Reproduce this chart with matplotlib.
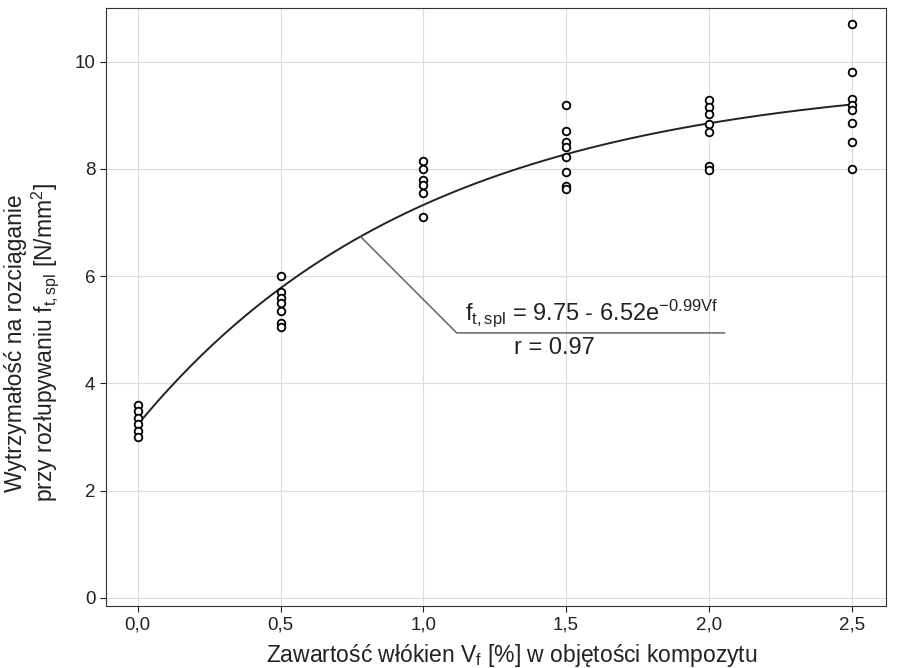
import numpy as np
import matplotlib
matplotlib.use("Agg")
from matplotlib import pyplot as plt

plt.rcParams['font.family'] = ['Liberation Sans', 'DejaVu Sans']
plt.rcParams['mathtext.fontset'] = 'custom'
plt.rcParams['mathtext.rm'] = 'Liberation Sans'
plt.rcParams['mathtext.it'] = 'Liberation Sans'
plt.rcParams['mathtext.default'] = 'regular'

# fibre content Vf [%] and measured strength [N/mm2]
vf_groups = [0.0, 0.5, 1.0, 1.5, 2.0, 2.5]
f_values = [
    [3.6, 3.48, 3.35, 3.25, 3.12, 3.0],
    [6.0, 5.7, 5.6, 5.5, 5.35, 5.12, 5.05],
    [8.15, 8.0, 7.8, 7.7, 7.55, 7.1],
    [9.2, 8.7, 8.5, 8.4, 8.22, 7.95, 7.68, 7.63],
    [9.29, 9.16, 9.03, 8.84, 8.69, 8.06, 7.97],
    [10.7, 9.8, 9.3, 9.2, 9.1, 8.85, 8.5, 8.0],
]

# fitted curve parameters
a = 9.75
b = 6.52
c = 0.99

xticks = [0.0, 0.5, 1.0, 1.5, 2.0, 2.5]
xticklabels = ['0,0', '0,5', '1,0', '1,5', '2,0', '2,5']
yticks = [0, 2, 4, 6, 8, 10]

fig = plt.figure(figsize=(9.04, 6.68), dpi=100)
ax = fig.add_axes([0.117, 0.093, 0.863, 0.895])

for v, vals in zip(vf_groups, f_values):
    ax.plot([v] * len(vals), vals, 'o', mfc='white', mec='black',
            ms=5.5, mew=1.3, zorder=3)

x = np.linspace(0, 2.5, 200)
ax.plot(x, a - b * np.exp(-c * x), color='#222222', lw=1.4, zorder=2)

# leader line to equation
x0 = 0.78
y0 = a - b * np.exp(-c * x0)
ax.plot([x0, 1.117, 2.055], [y0, 4.94, 4.94], color='#555555', lw=1.0, zorder=2)
ax.text(1.59, 5.02, r'$f_{t,spl}$ = 9.75 - 6.52e$^{-0.99Vf}$', fontsize=17,
        ha='center', va='bottom', color='#222222')
ax.text(1.46, 4.86, 'r = 0.97', fontsize=17, ha='center', va='top', color='#222222')

ax.set_xlim(-0.112, 2.62)
ax.set_ylim(-0.15, 11.0)
ax.set_xticks(xticks)
ax.set_xticklabels(xticklabels)
ax.set_yticks(yticks)
ax.tick_params(labelsize=13.5, length=4, colors='#222222')
ax.grid(True, color='#dddddd', lw=0.8)
ax.set_axisbelow(True)
for s in ax.spines.values():
    s.set_color('#333333')

ax.set_xlabel('Zawartość włókien V$_f$ [%] w objętości kompozytu', fontsize=16.5,
              color='#222222')
ax.set_ylabel('Wytrzymałość na rozciąganie\nprzy rozłupywaniu $f_{t,spl}$ [N/mm$^2$]',
              fontsize=16.5, color='#222222', linespacing=1.1)
ax.xaxis.set_label_coords(0.52, -0.06)
ax.yaxis.set_label_coords(-0.058, 0.44)

fig.savefig('out.png', dpi=100)
